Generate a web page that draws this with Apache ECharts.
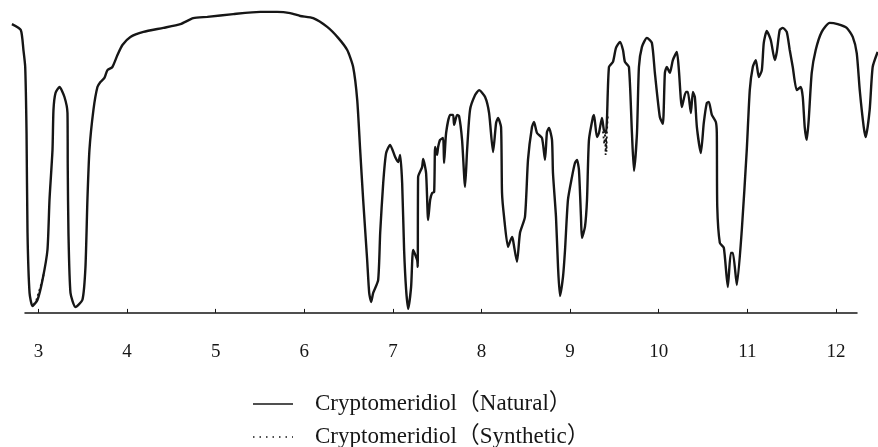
<!DOCTYPE html>
<html>
<head>
<meta charset="utf-8">
<script src="https://cdn.jsdelivr.net/npm/echarts@6/dist/echarts.min.js"></script>
<style>
  html, body { margin: 0; padding: 0; background: #fff; }
  #chart { width: 878px; height: 447px; }
</style>
</head>
<body>
<div id="chart"></div>
<script>
// wavelength (micron), transmittance (%)
const naturalSpectrum = [
  [2.70,92.3],[2.80,90.4],[2.83,84.0],[2.85,78.6],[2.865,57.5],[2.876,25.6],[2.899,6.4],[2.932,2.2],
  [2.989,4.2],[3.045,10.5],[3.101,20.1],[3.124,36.1],[3.158,52.1],[3.169,64.9],[3.192,70.3],[3.237,72.2],
  [3.293,69.0],[3.327,63.9],[3.33,46.6],[3.338,25.6],[3.361,6.4],[3.417,1.9],[3.496,4.2],[3.530,14.7],
  [3.552,36.1],[3.575,52.1],[3.620,64.9],[3.665,72.2],[3.699,73.8],[3.744,75.1],[3.778,77.6],[3.834,78.6],
  [3.891,82.4],[3.947,85.6],[4.037,88.2],[4.184,89.8],[4.409,91.1],[4.601,92.3],[4.747,94.2],[4.905,94.6],
  [5.198,95.5],[5.503,96.2],[5.694,96.2],[5.841,95.8],[5.954,94.9],[6.100,94.2],[6.258,91.4],[6.382,87.9],
  [6.484,84.0],[6.551,78.6],[6.597,68.0],[6.630,52.1],[6.664,36.1],[6.709,16.9],[6.732,6.4],[6.754,3.5],
  [6.777,6.4],[6.833,10.5],[6.856,25.6],[6.890,41.5],[6.923,51.1],[6.968,53.7],[7.025,49.8],[7.059,48.2],
  [7.081,50.5],[7.104,41.5],[7.126,20.1],[7.149,7.3],[7.172,1.3],[7.205,8.3],[7.228,20.1],[7.273,16.9],
  [7.28,14.7],[7.284,43.4],[7.329,46.6],[7.341,49.2],[7.374,44.7],[7.397,29.7],[7.420,36.1],[7.442,38.3],
  [7.465,38.7],[7.476,53.0],[7.498,50.5],[7.510,53.0],[7.532,55.3],[7.566,55.9],[7.577,47.9],[7.600,57.5],
  [7.645,63.3],[7.679,63.3],[7.690,60.1],[7.724,63.3],[7.746,62.9],[7.780,55.3],[7.814,40.3],[7.837,52.1],
  [7.870,64.9],[7.927,69.6],[7.972,71.2],[8.040,69.0],[8.085,63.9],[8.130,51.4],[8.164,60.7],[8.186,62.3],
  [8.220,59.4],[8.231,38.3],[8.254,30.7],[8.299,21.1],[8.344,24.3],[8.355,23.3],[8.400,16.3],[8.434,25.6],
  [8.490,30.7],[8.524,48.9],[8.569,59.4],[8.592,61.0],[8.626,57.5],[8.682,55.9],[8.716,48.9],[8.738,57.8],
  [8.761,59.1],[8.795,55.3],[8.806,44.7],[8.840,30.7],[8.863,14.7],[8.885,5.4],[8.919,11.5],[8.942,20.1],
  [8.975,36.1],[9.020,43.4],[9.054,47.9],[9.077,48.9],[9.099,45.7],[9.122,30.7],[9.133,24.0],[9.167,27.5],
  [9.190,36.1],[9.212,55.3],[9.257,62.6],[9.269,63.3],[9.302,56.2],[9.325,57.5],[9.359,62.3],[9.381,58.4],
  [9.404,57.5],[9.415,61.7],[9.438,78.6],[9.483,80.2],[9.517,84.7],[9.562,86.6],[9.596,84.0],[9.618,80.2],
  [9.663,78.6],[9.697,57.5],[9.720,45.4],[9.754,57.5],[9.776,78.6],[9.810,85.0],[9.866,87.9],[9.922,86.3],
  [9.956,76.7],[10.012,62.6],[10.046,60.4],[10.069,76.7],[10.091,78.6],[10.125,76.7],[10.159,80.8],[10.204,83.4],
  [10.227,77.6],[10.261,65.8],[10.306,70.6],[10.328,70.6],[10.362,63.9],[10.385,70.6],[10.407,69.0],[10.430,59.4],
  [10.475,51.1],[10.508,60.7],[10.542,67.1],[10.565,67.4],[10.599,63.3],[10.644,61.0],[10.655,57.5],[10.66,33.9],
  [10.689,22.4],[10.734,20.8],[10.779,8.3],[10.813,19.2],[10.836,19.2],[10.881,8.9],[10.937,26.5],[10.993,52.1],
  [11.027,71.2],[11.061,78.6],[11.095,80.8],[11.129,75.4],[11.163,77.6],[11.185,86.3],[11.219,90.1],[11.264,87.2],
  [11.309,80.8],[11.332,83.4],[11.365,90.4],[11.399,91.1],[11.444,89.8],[11.478,84.0],[11.512,78.6],[11.557,71.2],
  [11.602,72.2],[11.625,69.0],[11.647,59.4],[11.670,55.3],[11.692,61.7],[11.726,76.7],[11.771,84.0],[11.839,89.8],
  [11.929,92.7],[12.019,92.3],[12.121,91.1],[12.189,88.2],[12.234,83.0],[12.268,71.2],[12.313,59.4],[12.336,56.2],
  [12.380,64.9],[12.414,78.6],[12.470,83.4]
];

// only where the synthetic trace departs from the natural one
const syntheticBand1 = [[2.945,2.6],[2.975,4.0],[3.005,6.8],[3.035,9.6],[3.06,12.5]];
const syntheticBand2 = [[9.37,58.0],[9.385,54.0],[9.395,57.5],[9.40,50.5],[9.405,56.0],[9.41,51.5],[9.415,58.0],[9.425,63.0]];

const tickValues = [3, 4, 5, 6, 7, 8, 9, 10, 11, 12];
const legendNames = ['Cryptomeridiol（Natural）', 'Cryptomeridiol（Synthetic）'];

const serif = '"Liberation Serif", "DejaVu Serif", "Noto Sans CJK JP", serif';
const ink = '#161616';

const chart = echarts.init(document.getElementById('chart'));

// the trace runs wider than the printed axis, so the axis sits in its own grid
chart.setOption({
  animation: false,
  backgroundColor: '#fff',
  grid: [
    { left: 0, right: 0, top: 0, bottom: 110 },
    { left: 25, right: 21, top: 0, bottom: 110 }
  ],
  xAxis: [
    { gridIndex: 0, type: 'value', min: 2.5655, max: 12.474, show: false },
    {
      gridIndex: 1,
      type: 'value',
      min: 2.8476,
      max: 12.238,
      splitLine: { show: false },
      axisLine: { show: true, lineStyle: { color: ink, width: 1.5 } },
      axisTick: { show: true, inside: true, length: 4, customValues: tickValues, lineStyle: { color: ink } },
      axisLabel: { fontFamily: serif, fontSize: 19, color: ink, margin: 6, customValues: tickValues }
    }
  ],
  yAxis: [
    { gridIndex: 0, type: 'value', min: -7.7, max: 100, show: false },
    { gridIndex: 1, type: 'value', min: -7.7, max: 100, show: false }
  ],
  graphic: [
    { type: 'line', shape: { x1: 253, y1: 404, x2: 293, y2: 404 }, style: { stroke: ink, lineWidth: 1.5 } },
    { type: 'text', x: 315, y: 404, style: { text: legendNames[0], fill: ink, font: '23px ' + serif, verticalAlign: 'middle' } },
    { type: 'line', shape: { x1: 253, y1: 437, x2: 293, y2: 437 }, style: { stroke: ink, lineWidth: 1.5, lineDash: [1.5, 5] } },
    { type: 'text', x: 315, y: 437, style: { text: legendNames[1], fill: ink, font: '23px ' + serif, verticalAlign: 'middle' } }
  ],
  series: [
    {
      name: legendNames[1],
      type: 'line',
      data: syntheticBand1,
      symbol: 'none',
      z: 2,
      lineStyle: { color: ink, width: 1.8, type: [2, 3] }
    },
    {
      name: legendNames[1],
      type: 'line',
      data: syntheticBand2,
      symbol: 'none',
      z: 2,
      lineStyle: { color: ink, width: 1.8, type: [2, 3] }
    },
    {
      name: legendNames[0],
      type: 'line',
      data: naturalSpectrum,
      symbol: 'none',
      smooth: 0.2,
      z: 3,
      lineStyle: { color: ink, width: 2.4 }
    }
  ]
});
</script>
</body>
</html>
